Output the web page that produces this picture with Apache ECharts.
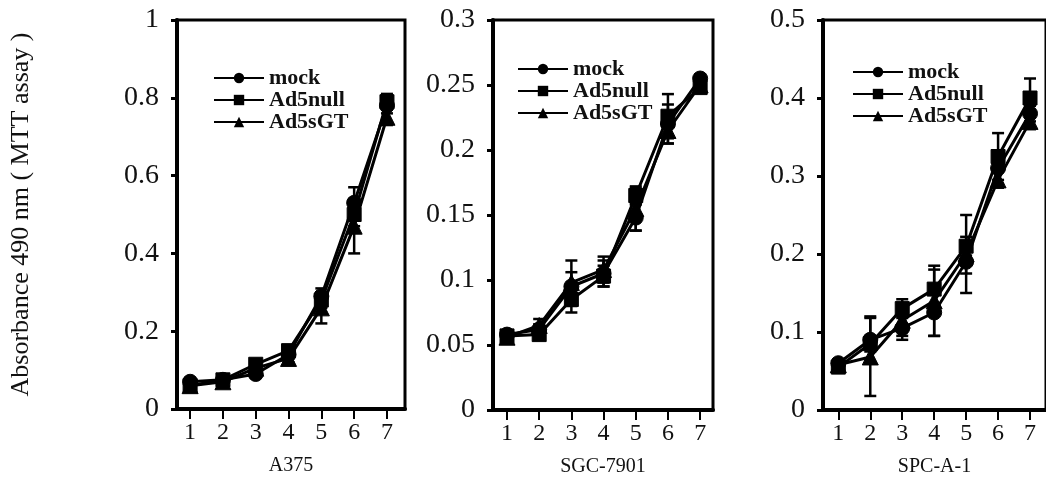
<!DOCTYPE html>
<html>
<head>
<meta charset="utf-8">
<script src="https://cdn.jsdelivr.net/npm/echarts@6/dist/echarts.min.js"></script>
<style>
html, body { margin: 0; padding: 0; background: #fff; }
#chart { width: 1046px; height: 482px; }
</style>
</head>
<body>
<div id="chart"></div>
<script>
// 时间点 (x)
var days = [1, 2, 3, 4, 5, 6, 7];
var xTicks = [1, 2, 3, 4, 5, 6, 7];
var seriesNames = ['mock', 'Ad5null', 'Ad5sGT'];
var panelNames = ['A375', 'SGC-7901', 'SPC-A-1'];

// A375
var a375Mock = [0.07, 0.075, 0.09, 0.14, 0.29, 0.53, 0.78];
var a375Null = [0.06, 0.075, 0.115, 0.15, 0.28, 0.50, 0.79];
var a375SGT  = [0.06, 0.07, 0.105, 0.13, 0.26, 0.47, 0.75];
var a375MockErr = [0.01, 0.01, 0.01, 0.01, 0.02, 0.04, 0.02];
var a375NullErr = [0.01, 0.01, 0.01, 0.01, 0.02, 0.03, 0.02];
var a375SGTErr  = [0.01, 0.01, 0.01, 0.01, 0.04, 0.07, 0.02];

// SGC-7901
var sgcMock = [0.058, 0.062, 0.095, 0.105, 0.148, 0.22, 0.255];
var sgcNull = [0.057, 0.058, 0.085, 0.103, 0.165, 0.226, 0.248];
var sgcSGT  = [0.056, 0.065, 0.098, 0.108, 0.155, 0.215, 0.25];
var sgcMockErr = [0.003, 0.004, 0.02, 0.01, 0.01, 0.015, 0.003];
var sgcNullErr = [0.003, 0.004, 0.005, 0.008, 0.006, 0.017, 0.004];
var sgcSGTErr  = [0.003, 0.005, 0.008, 0.01, 0.017, 0.01, 0.004];

// SPC-A-1
var spcMock = [0.06, 0.09, 0.105, 0.125, 0.19, 0.31, 0.38];
var spcNull = [0.055, 0.085, 0.13, 0.155, 0.21, 0.325, 0.40];
var spcSGT  = [0.058, 0.068, 0.115, 0.14, 0.20, 0.295, 0.37];
var spcMockErr = [0.005, 0.03, 0.015, 0.03, 0.015, 0.02, 0.01];
var spcNullErr = [0.005, 0.01, 0.012, 0.025, 0.012, 0.03, 0.025];
var spcSGTErr  = [0.005, 0.05, 0.02, 0.045, 0.05, 0.01, 0.01];

var yMax = [1, 0.3, 0.5];
var yStep = [0.2, 0.05, 0.1];

var fontSerif = 'Liberation Serif';
var symbols = ['circle', 'rect', 'triangle'];
var symbolSizes = [15, 14, 16];

var panelValues = [
	[a375Mock, a375Null, a375SGT],
	[sgcMock, sgcNull, sgcSGT],
	[spcMock, spcNull, spcSGT]
];
var panelErrors = [
	[a375MockErr, a375NullErr, a375SGTErr],
	[sgcMockErr, sgcNullErr, sgcSGTErr],
	[spcMockErr, spcNullErr, spcSGTErr]
];

// 布局
var grids = [
	{ left: 177, top: 20, width: 228, height: 389 },
	{ left: 493, top: 20, width: 220, height: 393 },
	{ left: 823, top: 20, width: 233, height: 391 }
];
var xRange = [[0.6, 7.55], [0.565, 7.4], [0.52, 7.5]];
var legendPos = [[208, 62], [512, 53], [847, 56]];

var pairs = function (xs, ys) {
	var out = [];
	for (var i = 0; i < xs.length; i++) out.push([xs[i], ys[i]]);
	return out;
};
var errTriples = function (xs, ys, es) {
	var out = [];
	for (var i = 0; i < xs.length; i++) out.push([xs[i], ys[i], es[i]]);
	return out;
};

var renderErrorBar = function (params, api) {
	var x = api.value(0), y = api.value(1), e = api.value(2);
	var top = api.coord([x, y + e]);
	var bot = api.coord([x, y - e]);
	var cap = 6;
	var style = { stroke: '#000', lineWidth: 2.5 };
	return {
		type: 'group',
		children: [
			{ type: 'line', shape: { x1: top[0], y1: top[1], x2: bot[0], y2: bot[1] }, style: style },
			{ type: 'line', shape: { x1: top[0] - cap, y1: top[1], x2: top[0] + cap, y2: top[1] }, style: style },
			{ type: 'line', shape: { x1: bot[0] - cap, y1: bot[1], x2: bot[0] + cap, y2: bot[1] }, style: style }
		]
	};
};

var xAxes = [], yAxes = [], series = [], legends = [];
for (var p = 0; p < 3; p++) {
	xAxes.push({
		type: 'value',
		gridIndex: p,
		min: xRange[p][0],
		max: xRange[p][1],
		name: panelNames[p],
		nameLocation: 'middle',
		nameGap: 47,
		nameTextStyle: { fontFamily: fontSerif, fontSize: 20, color: '#111' },
		axisLine: { onZero: false, lineStyle: { color: '#000', width: 4 } },
		axisTick: { show: true, length: 10, customValues: xTicks, lineStyle: { color: '#000', width: 2 } },
		axisLabel: { customValues: xTicks, margin: 12, fontFamily: fontSerif, fontSize: 24, color: '#111' },
		splitLine: { show: false }
	});
	yAxes.push({
		type: 'value',
		gridIndex: p,
		min: 0,
		max: yMax[p],
		interval: yStep[p],
		name: p === 0 ? 'Absorbance 490 nm ( MTT assay )' : '',
		nameLocation: 'middle',
		nameRotate: 90,
		nameGap: 143,
		nameTextStyle: { fontFamily: fontSerif, fontSize: 26, color: '#111' },
		axisLine: { show: true, lineStyle: { color: '#000', width: 4 } },
		axisTick: { show: true, length: 6, lineStyle: { color: '#000', width: 3 } },
		axisLabel: { margin: 18, fontFamily: fontSerif, fontSize: 28, color: '#111' },
		splitLine: { show: false }
	});
	legends.push({
		data: seriesNames,
		orient: 'vertical',
		left: legendPos[p][0],
		top: legendPos[p][1],
		itemWidth: 50,
		itemHeight: 13,
		itemGap: 0,
		selectedMode: false,
		textStyle: { fontFamily: fontSerif, fontSize: 22, lineHeight: 20, color: '#111', fontWeight: 'bold' }
	});
	for (var s = 0; s < 3; s++) {
		series.push({
			type: 'custom',
			xAxisIndex: p,
			yAxisIndex: p,
			renderItem: renderErrorBar,
			data: errTriples(days, panelValues[p][s], panelErrors[p][s]),
			z: 1,
			silent: true
		});
	}
	for (var s2 = 0; s2 < 3; s2++) {
		series.push({
			name: seriesNames[s2],
			type: 'line',
			xAxisIndex: p,
			yAxisIndex: p,
			data: pairs(days, panelValues[p][s2]),
			symbol: symbols[s2],
			symbolSize: symbolSizes[s2],
			showAllSymbol: true,
			lineStyle: { color: '#000', width: 3 },
			itemStyle: { color: '#000', borderColor: '#000' },
			z: 2
		});
	}
}

var chart = echarts.init(document.getElementById('chart'));
chart.setOption({
	backgroundColor: '#fff',
	animation: false,
	grid: grids.map(function (g) {
		return { left: g.left, top: g.top, width: g.width, height: g.height, show: true, borderColor: '#000', borderWidth: 3, backgroundColor: 'transparent' };
	}),
	legend: legends,
	xAxis: xAxes,
	yAxis: yAxes,
	series: series
});
</script>
</body>
</html>
